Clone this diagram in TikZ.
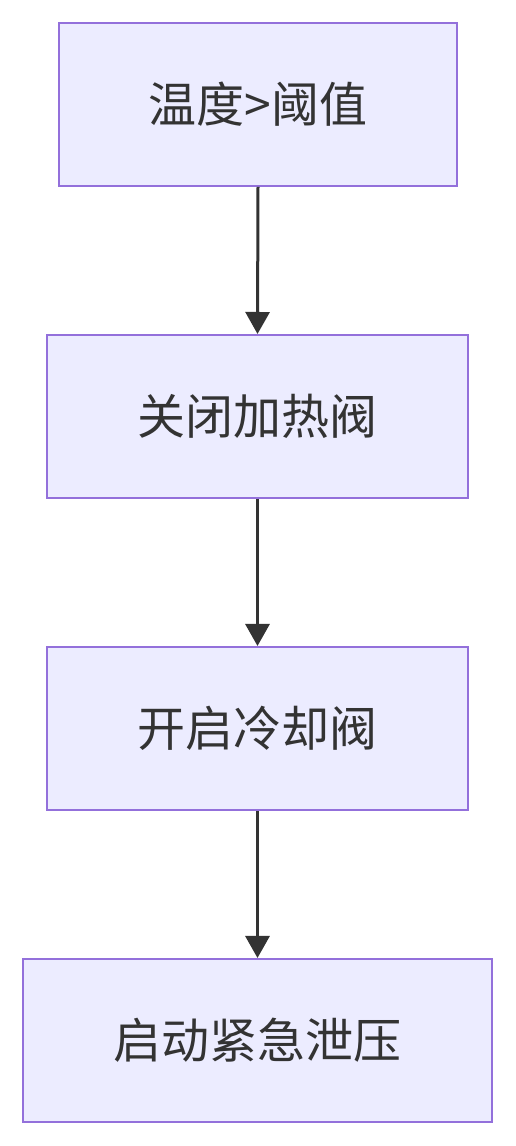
\documentclass[tikz,border=0pt]{standalone}
\usepackage{fontspec}
\newfontfamily\cjk{Noto Sans CJK SC}
\usetikzlibrary{arrows.meta}
\definecolor{boxfill}{HTML}{ECECFF}
\definecolor{boxdraw}{HTML}{9370DB}
\definecolor{ink}{HTML}{333333}
\tikzset{
  flowbox/.style={draw=boxdraw, fill=boxfill, line width=2pt, minimum height=163pt, inner sep=0pt, text=ink, font=\cjk\fontsize{48pt}{52pt}\selectfont},
  flowarrow/.style={draw=ink, line width=3pt, -{Triangle[length=22pt,width=24pt]}}
}
\begin{document}
\begin{tikzpicture}[x=1pt,y=1pt]
\useasboundingbox (0,0) rectangle (516,1146);
\node[flowbox, minimum width=398pt] (a) at (258,1041.5) {温度>阈值};
\node[flowbox, minimum width=421pt] (b) at (257.5,729.5) {关闭加热阀};
\node[flowbox, minimum width=421pt] (c) at (257.5,417.5) {开启冷却阀};
\node[flowbox, minimum width=469pt] (d) at (257.5,105.5) {启动紧急泄压};
\draw[flowarrow] (a.south) -- (b.north);
\draw[flowarrow] (b.south) -- (c.north);
\draw[flowarrow] (c.south) -- (d.north);
\end{tikzpicture}
\end{document}
